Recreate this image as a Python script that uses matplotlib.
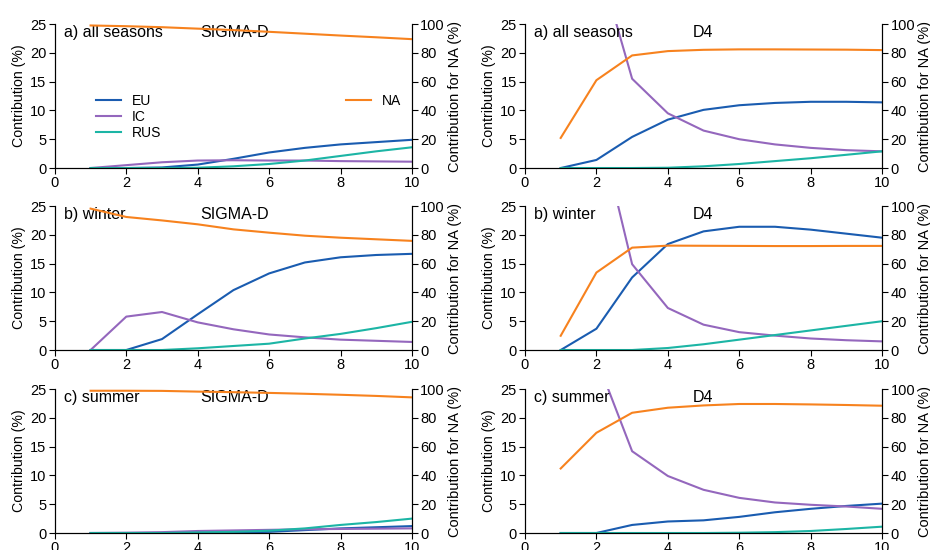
import numpy as np
import matplotlib.pyplot as plt

plt.rcParams['font.family'] = ['Liberation Sans', 'DejaVu Sans']
plt.rcParams['font.size'] = 10

x = [1, 2, 3, 4, 5, 6, 7, 8, 9, 10]
nan = np.nan

# SIGMA-D
sig_all_eu = [0, 0, 0.1, 0.6, 1.6, 2.7, 3.5, 4.1, 4.5, 4.9]
sig_all_ic = [0, 0.5, 1.0, 1.3, 1.35, 1.3, 1.3, 1.2, 1.15, 1.1]
sig_all_rus = [0, 0, 0, 0.05, 0.3, 0.7, 1.3, 2.1, 2.9, 3.6]
sig_all_na = [99, 98.5, 97.8, 96.8, 95.8, 94.6, 93.3, 92, 90.8, 89.5]

sig_win_eu = [0, 0, 1.9, 6.2, 10.4, 13.3, 15.2, 16.1, 16.5, 16.7]
sig_win_ic = [0, 5.8, 6.6, 4.8, 3.6, 2.7, 2.2, 1.8, 1.6, 1.4]
sig_win_rus = [0, 0, 0, 0.3, 0.7, 1.1, 2.0, 2.8, 3.8, 4.9]
sig_win_na = [98.2, 92.4, 90, 87.3, 83.8, 81.5, 79.4, 78, 76.9, 75.8]

sig_sum_eu = [0, 0, 0, 0.05, 0.1, 0.2, 0.5, 0.8, 1.0, 1.2]
sig_sum_ic = [0, 0.05, 0.15, 0.35, 0.45, 0.55, 0.65, 0.7, 0.75, 0.8]
sig_sum_rus = [0, 0, 0, 0.1, 0.2, 0.4, 0.8, 1.4, 1.9, 2.5]
sig_sum_na = [98.8, 98.8, 98.7, 98.2, 97.8, 97.3, 96.7, 96, 95.2, 94.2]

# D4
d4_all_eu = [0, 1.4, 5.4, 8.4, 10.1, 10.9, 11.3, 11.5, 11.5, 11.4]
d4_all_ic = [nan, 37.1, 15.5, 9.5, 6.5, 5.0, 4.1, 3.5, 3.1, 2.9]
d4_all_rus = [0, 0, 0, 0.05, 0.3, 0.7, 1.2, 1.7, 2.3, 2.9]
d4_all_na = [20.9, 61, 78.2, 81.2, 82.1, 82.4, 82.4, 82.3, 82.2, 81.9]

d4_win_eu = [0, 3.7, 12.6, 18.4, 20.6, 21.4, 21.4, 20.9, 20.2, 19.5]
d4_win_ic = [nan, 40.7, 14.9, 7.3, 4.4, 3.1, 2.5, 2.0, 1.7, 1.5]
d4_win_rus = [0, 0, 0, 0.35, 1.0, 1.8, 2.6, 3.4, 4.2, 5.0]
d4_win_na = [9.9, 53.8, 71.1, 72.5, 72.4, 72.3, 72.2, 72.2, 72.3, 72.3]

d4_sum_eu = [0, 0, 1.4, 2.0, 2.2, 2.8, 3.6, 4.2, 4.7, 5.1]
d4_sum_ic = [nan, 30.3, 14.2, 9.9, 7.5, 6.1, 5.3, 4.9, 4.6, 4.2]
d4_sum_rus = [0, 0, 0, 0, 0, 0.05, 0.15, 0.35, 0.7, 1.1]
d4_sum_na = [44.8, 69.6, 83.5, 87, 88.6, 89.6, 89.6, 89.3, 88.9, 88.4]

panels = [
    ('a) all seasons', 'SIGMA-D', sig_all_eu, sig_all_ic, sig_all_rus, sig_all_na),
    ('a) all seasons', 'D4', d4_all_eu, d4_all_ic, d4_all_rus, d4_all_na),
    ('b) winter', 'SIGMA-D', sig_win_eu, sig_win_ic, sig_win_rus, sig_win_na),
    ('b) winter', 'D4', d4_win_eu, d4_win_ic, d4_win_rus, d4_win_na),
    ('c) summer', 'SIGMA-D', sig_sum_eu, sig_sum_ic, sig_sum_rus, sig_sum_na),
    ('c) summer', 'D4', d4_sum_eu, d4_sum_ic, d4_sum_rus, d4_sum_na),
]

c_eu = '#1a5cb0'
c_ic = '#9467bd'
c_rus = '#1cb5a5'
c_na = '#f7821e'

fig = plt.figure(figsize=(9.3, 5.5), dpi=100)
lefts = [0.059, 0.5645]
bottoms = [0.6945, 0.3636, 0.0309]
w, h = 0.384, 0.2618

for i, (season, model, eu, ic, rus, na) in enumerate(panels):
    ax = fig.add_axes([lefts[i % 2], bottoms[i // 2], w, h])
    l1, = ax.plot(x, eu, color=c_eu, lw=1.5, label='EU')
    l2, = ax.plot(x, ic, color=c_ic, lw=1.5, label='IC')
    l3, = ax.plot(x, rus, color=c_rus, lw=1.5, label='RUS')
    ax.set_xlim(0, 10)
    ax.set_ylim(0, 25)
    ax.set_xticks([0, 2, 4, 6, 8, 10])
    ax.set_yticks([0, 5, 10, 15, 20, 25])
    ax.set_ylabel('Contribution (%)', fontsize=10.2, labelpad=3)
    ax.spines['top'].set_visible(False)
    ax.tick_params(direction='out', length=4, labelsize=10.5, pad=2)

    ax2 = ax.twinx()
    l4, = ax2.plot(x, na, color=c_na, lw=1.5, label='NA')
    ax2.set_ylim(0, 100)
    ax2.set_yticks([0, 20, 40, 60, 80, 100])
    ax2.set_ylabel('Contribution for NA (%)', fontsize=10.5, labelpad=2)
    ax2.spines['top'].set_visible(False)
    ax2.tick_params(direction='out', length=4, labelsize=10.5, pad=2)

    ax.text(0.025, 0.94, season, transform=ax.transAxes, fontsize=11.5, va='center')
    ax.text(0.406 if model == 'SIGMA-D' else 0.47, 0.94, model,
            transform=ax.transAxes, fontsize=11.5, va='center')

    if i == 0:
        ax.legend(handles=[l1, l2, l3], frameon=False, loc='upper left',
                  bbox_to_anchor=(0.08, 0.6), fontsize=10, handlelength=1.8,
                  labelspacing=0.15)
        ax2.legend(handles=[l4], frameon=False, loc='upper left',
                   bbox_to_anchor=(0.78, 0.6), fontsize=10, handlelength=1.8)

fig.savefig('out.png', dpi=100)
